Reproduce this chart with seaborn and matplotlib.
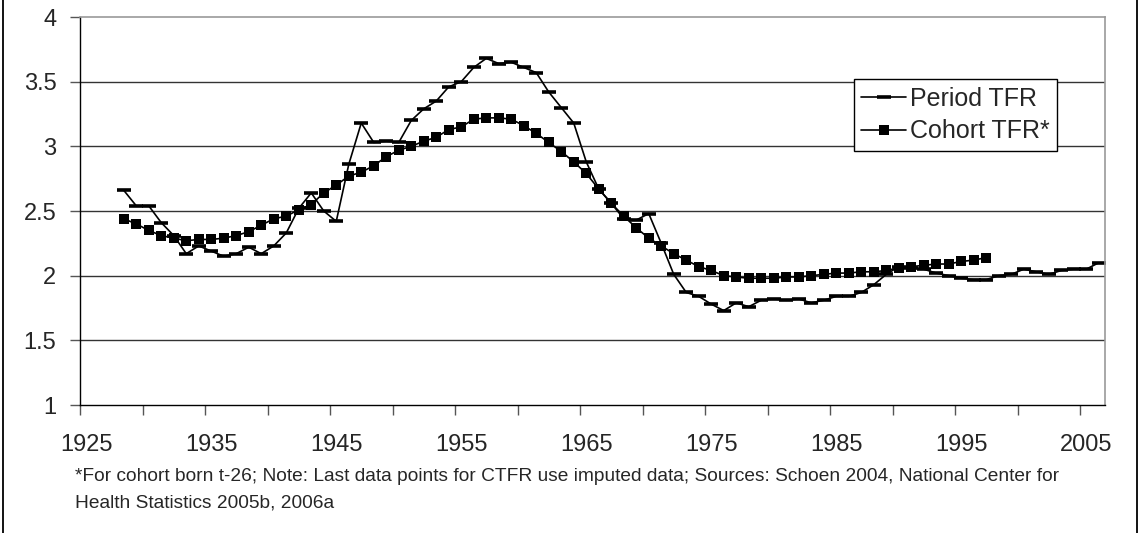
import numpy as np
import pandas as pd
import matplotlib
matplotlib.use("Agg")
import matplotlib.pyplot as plt
import seaborn as sns
from matplotlib.lines import Line2D
from matplotlib.ticker import FixedLocator, NullFormatter

# Data
period_years = list(range(1928, 2007))
period_tfr = [2.66, 2.54, 2.54, 2.41, 2.31, 2.17, 2.23, 2.19, 2.15, 2.17,
              2.22, 2.17, 2.23, 2.33, 2.52, 2.64, 2.50, 2.42, 2.86, 3.18,
              3.03, 3.04, 3.03, 3.20, 3.29, 3.35, 3.46, 3.50, 3.61, 3.68,
              3.64, 3.65, 3.61, 3.57, 3.42, 3.30, 3.18, 2.88, 2.67, 2.56,
              2.44, 2.43, 2.48, 2.25, 2.01, 1.87, 1.84, 1.78, 1.73, 1.79,
              1.76, 1.81, 1.82, 1.81, 1.82, 1.79, 1.81, 1.84, 1.84, 1.87,
              1.93, 2.01, 2.07, 2.06, 2.05, 2.02, 2.00, 1.98, 1.97, 1.97,
              2.00, 2.01, 2.05, 2.03, 2.01, 2.04, 2.05, 2.05, 2.10]

cohort_years = list(range(1928, 1998))
cohort_tfr = [2.44, 2.40, 2.35, 2.31, 2.29, 2.27, 2.28, 2.28, 2.29, 2.31,
              2.34, 2.39, 2.44, 2.46, 2.51, 2.55, 2.64, 2.70, 2.77, 2.80,
              2.85, 2.92, 2.97, 3.00, 3.04, 3.07, 3.13, 3.15, 3.21, 3.22,
              3.22, 3.21, 3.16, 3.10, 3.03, 2.96, 2.88, 2.79, 2.67, 2.56,
              2.46, 2.37, 2.29, 2.23, 2.17, 2.12, 2.07, 2.04, 2.00, 1.99,
              1.98, 1.98, 1.98, 1.99, 1.99, 2.00, 2.01, 2.02, 2.02, 2.03,
              2.03, 2.04, 2.06, 2.07, 2.08, 2.09, 2.09, 2.11, 2.12, 2.14]

year_labels = [1925, 1935, 1945, 1955, 1965, 1975, 1985, 1995, 2005]
y_ticks = [1, 1.5, 2, 2.5, 3, 3.5, 4]

footnote = ("*For cohort born t-26; Note: Last data points for CTFR use imputed data; "
            "Sources: Schoen 2004, National Center for\nHealth Statistics 2005b, 2006a")

df_period = pd.DataFrame({"year": period_years, "tfr": period_tfr})
df_cohort = pd.DataFrame({"year": cohort_years, "tfr": cohort_tfr})

sns.set_style("white")
plt.rcParams["font.family"] = ["Liberation Sans", "DejaVu Sans"]

fig = plt.figure(figsize=(11.4, 5.33), dpi=100)
ax = fig.add_axes([80 / 1140, 1 - 405 / 533, 1025 / 1140, 388 / 533])

sns.lineplot(data=df_period, x="year", y="tfr", ax=ax, color="black", lw=1.2,
             marker="_", markersize=9.5, markeredgewidth=2.6,
             markeredgecolor="black", label="Period TFR")
sns.lineplot(data=df_cohort, x="year", y="tfr", ax=ax, color="black", lw=1.2,
             marker="s", markersize=7, markeredgewidth=0,
             markeredgecolor="black", label="Cohort TFR*")

ax.set_xlim(1924.5, 2006.5)
ax.set_ylim(1, 4)
ax.set_yticks(y_ticks)
ax.set_yticklabels([f"{v:g}" for v in y_ticks])
ax.set_xticks(year_labels)
ax.set_xticklabels([str(y) for y in year_labels])
ax.xaxis.set_minor_locator(FixedLocator(np.arange(1924.5, 2007, 5)))
ax.xaxis.set_minor_formatter(NullFormatter())
ax.tick_params(axis="x", which="major", length=0, labelsize=17, pad=21)
ax.tick_params(axis="x", which="minor", bottom=True, length=7, width=1, color="#555555")
ax.tick_params(axis="y", left=True, length=7, width=1, color="#555555", labelsize=17, pad=10)
ax.set_xlabel("")
ax.set_ylabel("")

for v in y_ticks[1:-1]:
    ax.axhline(v, color="#333333", lw=1, zorder=0)

for side in ["left", "bottom"]:
    ax.spines[side].set_color("black")
    ax.spines[side].set_linewidth(1)
for side in ["top", "right"]:
    ax.spines[side].set_color("#999999")
    ax.spines[side].set_linewidth(1.2)

leg = ax.legend(loc="upper left", bbox_to_anchor=(0.755, 0.840), fontsize=18,
                frameon=True, fancybox=False, edgecolor="black", framealpha=1,
                handlelength=1.8, handletextpad=0.15, borderpad=0.3,
                labelspacing=0.35, borderaxespad=0)
leg.get_frame().set_linewidth(1)

fig.text(75 / 1140, 1 - 468 / 533, footnote, fontsize=13.8, va="top", ha="left",
         linespacing=1.75)

fig.add_artist(Line2D([3 / 1140, 3 / 1140], [0, 1], color="black", lw=1.3))
fig.add_artist(Line2D([1137 / 1140, 1137 / 1140], [0, 1], color="black", lw=1.3))

fig.savefig("out.png", dpi=100)
